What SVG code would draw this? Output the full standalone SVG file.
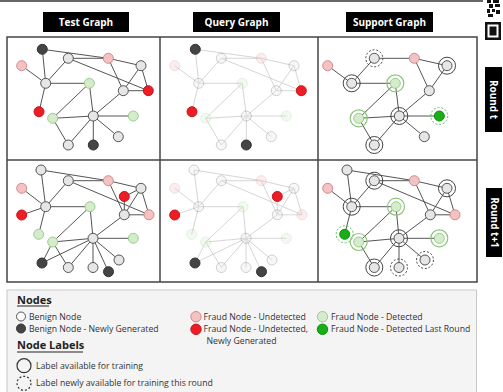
<svg xmlns="http://www.w3.org/2000/svg" width="503" height="392" viewBox="0 0 503 392">
<style>
text{font-family:"Open Sans","DejaVu Sans",sans-serif}
.ttl{font-size:10px;font-weight:bold;fill:#fff;text-anchor:middle}
.lg-t{font-size:8.7px;fill:#333}
.hd{font-size:11px;font-weight:bold;fill:#222}
.e{fill:none;stroke:#555;stroke-width:1}
.ef{fill:none;stroke:#d6d6d6;stroke-width:1}
.g{fill:#e6e6e6;stroke:#555;stroke-width:1}
.w{fill:#fafafa;stroke:#555;stroke-width:1}
.k{fill:#444;stroke:#333;stroke-width:1}
.p{fill:#f4c2c2;stroke:#d38a8a;stroke-width:1}
.r{fill:#ee1d25;stroke:#c4141a;stroke-width:1}
.l{fill:#d4ebcc;stroke:#9ccd8c;stroke-width:1}
.b{fill:#16b016;stroke:#0b8f0b;stroke-width:1}
.ring{fill:none;stroke:#444;stroke-width:1}
.dring{fill:none;stroke:#444;stroke-width:1;stroke-dasharray:2 1.8}
.gring{fill:none;stroke:#8cc47c;stroke-width:1.2}
.gdring{fill:none;stroke:#5cbf5c;stroke-width:1;stroke-dasharray:2 1.8}
.fade{opacity:.28}
</style>
<rect width="503" height="392" fill="#fff"/>
<line x1="0" y1="1" x2="483" y2="1" stroke="#333" stroke-width="1.5"/>
<!-- icon -->
<g id="icon" fill="#111">
<rect x="487" y="0" width="4" height="3"/><rect x="493" y="0" width="6" height="3"/>
<rect x="489" y="4" width="4" height="4"/><rect x="495" y="4" width="5" height="3"/>
<rect x="487" y="9" width="3" height="4"/><rect x="492" y="9" width="3" height="3"/><rect x="496" y="10" width="4" height="4"/>
<rect x="488" y="14" width="5" height="3"/>
<rect x="485" y="22" width="16" height="18"/>
<rect x="487.5" y="24.5" width="11" height="13" fill="#fff"/>
<rect x="489.5" y="26.5" width="7" height="9"/>
</g>
<!-- titles -->
<g id="title-test"><rect x="43" y="12" width="86" height="20" fill="#000"/><text class="ttl" x="86" y="25.5">Test Graph</text></g>
<g id="title-query"><rect x="193" y="12" width="87" height="20" fill="#000"/><text class="ttl" x="236.5" y="25.5">Query Graph</text></g>
<g id="title-support"><rect x="346" y="12" width="87" height="20" fill="#000"/><text class="ttl" x="389.5" y="25.5">Support Graph</text></g>
<g id="round-t"><rect x="485" y="67" width="17" height="65" fill="#000"/><text class="ttl" transform="translate(490 99.5) rotate(90)" x="0" y="0">Round t</text></g>
<g id="round-t1"><rect x="486" y="188" width="16" height="69" fill="#000"/><text class="ttl" transform="translate(490.5 222.5) rotate(90)" x="0" y="0">Round t+1</text></g>
<!-- grid -->
<g id="grid" fill="none" stroke="#444" stroke-width="1.5">
<rect x="7" y="37" width="470" height="245"/>
<line x1="160" y1="37" x2="160" y2="282"/>
<line x1="318" y1="37" x2="318" y2="282"/>
<line x1="7" y1="160" x2="477" y2="160"/>
</g>
<!-- connectors -->
<g id="connectors">
<path id="edges-test-t" class="e" d="M42.3 49.3L108.3 58.3M42.3 49.3L45.7 83.3M68.3 58.3L108.3 58.3M68.3 58.3L45.7 83.3M68.3 58.3L148.3 90.7M108.3 58.3L141 65.7M108.3 58.3L123.3 90.7M141 65.7L123.3 90.7M141 65.7L148.3 90.7M123.3 90.7L148.3 90.7M21.7 65.7L45.7 83.3M45.7 83.3L89.3 83.3M45.7 83.3L39 111.7M89.3 83.3L52.7 118.3M89.3 83.3L93.3 116M123.3 90.7L93.3 116M52.7 118.3L93.3 116M52.7 118.3L68.3 145M93.3 116L133.3 116M93.3 116L118.3 136.7M93.3 116L93.3 145M93.3 116L68.3 145"/>
<path id="edges-query-t" class="ef" transform="translate(153 0)" d="M42.3 49.3L108.3 58.3M42.3 49.3L45.7 83.3M68.3 58.3L108.3 58.3M68.3 58.3L45.7 83.3M68.3 58.3L148.3 90.7M108.3 58.3L141 65.7M108.3 58.3L123.3 90.7M141 65.7L123.3 90.7M141 65.7L148.3 90.7M123.3 90.7L148.3 90.7M21.7 65.7L45.7 83.3M45.7 83.3L89.3 83.3M45.7 83.3L39 111.7M89.3 83.3L52.7 118.3M89.3 83.3L93.3 116M123.3 90.7L93.3 116M52.7 118.3L93.3 116M52.7 118.3L68.3 145M93.3 116L133.3 116M93.3 116L118.3 136.7M93.3 116L93.3 145M93.3 116L68.3 145"/>
<path id="edges-support-t" class="e" transform="translate(306 0)" d="M68.3 58.3L108.3 58.3M68.3 58.3L45.7 83.3M108.3 58.3L141 65.7M108.3 58.3L123.3 90.7M141 65.7L123.3 90.7M21.7 65.7L45.7 83.3M45.7 83.3L89.3 83.3M89.3 83.3L52.7 118.3M89.3 83.3L93.3 116M123.3 90.7L93.3 116M52.7 118.3L93.3 116M52.7 118.3L68.3 145M93.3 116L133.3 116M93.3 116L118.3 136.7M93.3 116L68.3 145"/>
<path id="edges-test-t1" class="e" d="M41 170L108.3 180.7M41 170L45.7 206.7M68.3 180.7L108.3 180.7M68.3 180.7L45.7 206.7M68.3 180.7L149 214.8M108.3 180.7L141 188.3M108.3 180.7L124.3 214.8M141 188.3L124.3 214.8M141 188.3L149 214.8M124.3 214.8L149 214.8M124.3 196.5L141 188.3M124.3 196.5L124.3 214.8M21.7 188.3L45.7 206.7M45.7 206.7L90 206.7M45.7 206.7L21.7 215M45.7 206.7L38.7 234.3M90 206.7L52.7 242M90 206.7L93 238.3M124.3 214.8L93 238.3M52.7 242L93 238.3M52.7 242L68.3 267.5M52.7 242L42 263M42 263L93 238.3M93 238.3L133.3 238.3M93 238.3L119 260M93 238.3L68.3 267.5M93 238.3L93 267.5M93 238.3L108.5 271.7"/>
<path id="edges-query-t1" class="ef" transform="translate(153 0)" d="M41 170L108.3 180.7M41 170L45.7 206.7M68.3 180.7L108.3 180.7M68.3 180.7L45.7 206.7M68.3 180.7L149 214.8M108.3 180.7L141 188.3M108.3 180.7L124.3 214.8M141 188.3L124.3 214.8M141 188.3L149 214.8M124.3 214.8L149 214.8M124.3 196.5L141 188.3M124.3 196.5L124.3 214.8M21.7 188.3L45.7 206.7M45.7 206.7L90 206.7M45.7 206.7L21.7 215M45.7 206.7L38.7 234.3M90 206.7L52.7 242M90 206.7L93 238.3M124.3 214.8L93 238.3M52.7 242L93 238.3M52.7 242L68.3 267.5M52.7 242L42 263M42 263L93 238.3M93 238.3L133.3 238.3M93 238.3L119 260M93 238.3L68.3 267.5M93 238.3L93 267.5M93 238.3L108.5 271.7"/>
<path id="edges-support-t1" class="e" transform="translate(306 0)" d="M41 170L108.3 180.7M41 170L45.7 206.7M68.3 180.7L108.3 180.7M68.3 180.7L45.7 206.7M68.3 180.7L149 214.8M108.3 180.7L141 188.3M108.3 180.7L124.3 214.8M141 188.3L124.3 214.8M141 188.3L149 214.8M124.3 214.8L149 214.8M21.7 188.3L45.7 206.7M45.7 206.7L90 206.7M45.7 206.7L38.7 234.3M90 206.7L52.7 242M90 206.7L93 238.3M124.3 214.8L93 238.3M52.7 242L93 238.3M52.7 242L68.3 267.5M93 238.3L133.3 238.3M93 238.3L119 260M93 238.3L68.3 267.5M93 238.3L93 267.5"/>
</g>
<!-- Test graph, round t -->
<g id="test-t">
<g id="tt-A"><circle class="k" cx="42.3" cy="49.3" r="5"/></g>
<g id="tt-B"><circle class="g" cx="68.3" cy="58.3" r="5"/></g>
<g id="tt-C"><circle class="p" cx="108.3" cy="58.3" r="5"/></g>
<g id="tt-D"><circle class="g" cx="141" cy="65.7" r="5"/></g>
<g id="tt-E"><circle class="p" cx="21.7" cy="65.7" r="5"/></g>
<g id="tt-F"><circle class="g" cx="45.7" cy="83.3" r="5"/></g>
<g id="tt-G"><circle class="l" cx="89.3" cy="83.3" r="5"/></g>
<g id="tt-H"><circle class="g" cx="123.3" cy="90.7" r="5"/></g>
<g id="tt-I"><circle class="r" cx="148.3" cy="90.7" r="5"/></g>
<g id="tt-J"><circle class="r" cx="39" cy="111.7" r="5"/></g>
<g id="tt-K"><circle class="l" cx="52.7" cy="118.3" r="5"/></g>
<g id="tt-L"><circle class="g" cx="93.3" cy="116" r="5"/></g>
<g id="tt-M"><circle class="l" cx="133.3" cy="116" r="5"/></g>
<g id="tt-N"><circle class="g" cx="118.3" cy="136.7" r="5"/></g>
<g id="tt-O"><circle class="g" cx="68.3" cy="145" r="5"/></g>
<g id="tt-P"><circle class="k" cx="93.3" cy="145" r="5"/></g>
</g>
<!-- Query graph, round t -->
<g id="query-t" transform="translate(153 0)">
<g id="qt-A"><circle class="k" cx="42.3" cy="49.3" r="5"/></g>
<g id="qt-B" class="fade"><circle class="g" cx="68.3" cy="58.3" r="5"/></g>
<g id="qt-C" class="fade"><circle class="p" cx="108.3" cy="58.3" r="5"/></g>
<g id="qt-D" class="fade"><circle class="g" cx="141" cy="65.7" r="5"/></g>
<g id="qt-E" class="fade"><circle class="p" cx="21.7" cy="65.7" r="5"/></g>
<g id="qt-F" class="fade"><circle class="g" cx="45.7" cy="83.3" r="5"/></g>
<g id="qt-G" class="fade"><circle class="l" cx="89.3" cy="83.3" r="5"/></g>
<g id="qt-H" class="fade"><circle class="g" cx="123.3" cy="90.7" r="5"/></g>
<g id="qt-I"><circle class="r" cx="148.3" cy="90.7" r="5"/></g>
<g id="qt-J"><circle class="r" cx="39" cy="111.7" r="5"/></g>
<g id="qt-K" class="fade"><circle class="l" cx="52.7" cy="118.3" r="5"/></g>
<g id="qt-L" class="fade"><circle class="g" cx="93.3" cy="116" r="5"/></g>
<g id="qt-M" class="fade"><circle class="l" cx="133.3" cy="116" r="5"/></g>
<g id="qt-N" class="fade"><circle class="g" cx="118.3" cy="136.7" r="5"/></g>
<g id="qt-O" class="fade"><circle class="g" cx="68.3" cy="145" r="5"/></g>
<g id="qt-P"><circle class="k" cx="93.3" cy="145" r="5"/></g>
</g>
<!-- Support graph, round t -->
<g id="support-t" transform="translate(306 0)">
<g id="st-B"><circle class="dring" cx="68.3" cy="58.3" r="8.5"/><circle class="g" cx="68.3" cy="58.3" r="5"/></g>
<g id="st-C"><circle class="p" cx="108.3" cy="58.3" r="5"/></g>
<g id="st-D"><circle class="ring" cx="141" cy="65.7" r="8.5"/><circle class="g" cx="141" cy="65.7" r="5"/></g>
<g id="st-E"><circle class="p" cx="21.7" cy="65.7" r="5"/></g>
<g id="st-F"><circle class="ring" cx="45.7" cy="83.3" r="8.5"/><circle class="g" cx="45.7" cy="83.3" r="5"/></g>
<g id="st-G"><circle class="gring" cx="89.3" cy="83.3" r="8.5"/><circle class="l" cx="89.3" cy="83.3" r="5"/></g>
<g id="st-H"><circle class="g" cx="123.3" cy="90.7" r="5"/></g>
<g id="st-K"><circle class="gring" cx="52.7" cy="118.3" r="8.5"/><circle class="l" cx="52.7" cy="118.3" r="5"/></g>
<g id="st-L"><circle class="ring" cx="93.3" cy="116" r="8.5"/><circle class="g" cx="93.3" cy="116" r="5"/></g>
<g id="st-M"><circle class="gdring" cx="133.3" cy="116" r="8.5"/><circle class="b" cx="133.3" cy="116" r="5"/></g>
<g id="st-N"><circle class="g" cx="118.3" cy="136.7" r="5"/></g>
<g id="st-O"><circle class="ring" cx="68.3" cy="145" r="8.5"/><circle class="g" cx="68.3" cy="145" r="5"/></g>
</g>
<!-- Test graph, round t+1 -->
<g id="test-t1">
<g id="tu-A"><circle class="g" cx="41" cy="170" r="5"/></g>
<g id="tu-B"><circle class="g" cx="68.3" cy="180.7" r="5"/></g>
<g id="tu-C"><circle class="p" cx="108.3" cy="180.7" r="5"/></g>
<g id="tu-D"><circle class="g" cx="141" cy="188.3" r="5"/></g>
<g id="tu-E"><circle class="p" cx="21.7" cy="188.3" r="5"/></g>
<g id="tu-Q"><circle class="r" cx="124.3" cy="196.5" r="5"/></g>
<g id="tu-F"><circle class="g" cx="45.7" cy="206.7" r="5"/></g>
<g id="tu-G"><circle class="l" cx="90" cy="206.7" r="5"/></g>
<g id="tu-H"><circle class="g" cx="124.3" cy="214.8" r="5"/></g>
<g id="tu-I"><circle class="p" cx="149" cy="214.8" r="5"/></g>
<g id="tu-J"><circle class="r" cx="21.7" cy="215" r="5"/></g>
<g id="tu-R"><circle class="l" cx="38.7" cy="234.3" r="5"/></g>
<g id="tu-K"><circle class="l" cx="52.7" cy="242" r="5"/></g>
<g id="tu-L"><circle class="g" cx="93" cy="238.3" r="5"/></g>
<g id="tu-M"><circle class="l" cx="133.3" cy="238.3" r="5"/></g>
<g id="tu-S"><circle class="k" cx="42" cy="263" r="5"/></g>
<g id="tu-O"><circle class="g" cx="68.3" cy="267.5" r="5"/></g>
<g id="tu-T"><circle class="g" cx="93" cy="267.5" r="5"/></g>
<g id="tu-N"><circle class="g" cx="119" cy="260" r="5"/></g>
<g id="tu-P"><circle class="k" cx="108.5" cy="271.7" r="5"/></g>
</g>
<!-- Query graph, round t+1 -->
<g id="query-t1" transform="translate(153 0)">
<g id="qu-A" class="fade"><circle class="g" cx="41" cy="170" r="5"/></g>
<g id="qu-B" class="fade"><circle class="g" cx="68.3" cy="180.7" r="5"/></g>
<g id="qu-C" class="fade"><circle class="p" cx="108.3" cy="180.7" r="5"/></g>
<g id="qu-D" class="fade"><circle class="g" cx="141" cy="188.3" r="5"/></g>
<g id="qu-E" class="fade"><circle class="p" cx="21.7" cy="188.3" r="5"/></g>
<g id="qu-Q"><circle class="r" cx="124.3" cy="196.5" r="5"/></g>
<g id="qu-F" class="fade"><circle class="g" cx="45.7" cy="206.7" r="5"/></g>
<g id="qu-G" class="fade"><circle class="l" cx="90" cy="206.7" r="5"/></g>
<g id="qu-H" class="fade"><circle class="g" cx="124.3" cy="214.8" r="5"/></g>
<g id="qu-I" class="fade"><circle class="p" cx="149" cy="214.8" r="5"/></g>
<g id="qu-J"><circle class="r" cx="21.7" cy="215" r="5"/></g>
<g id="qu-R" class="fade"><circle class="l" cx="38.7" cy="234.3" r="5"/></g>
<g id="qu-K" class="fade"><circle class="l" cx="52.7" cy="242" r="5"/></g>
<g id="qu-L" class="fade"><circle class="g" cx="93" cy="238.3" r="5"/></g>
<g id="qu-M" class="fade"><circle class="l" cx="133.3" cy="238.3" r="5"/></g>
<g id="qu-S"><circle class="k" cx="42" cy="263" r="5"/></g>
<g id="qu-O" class="fade"><circle class="g" cx="68.3" cy="267.5" r="5"/></g>
<g id="qu-T" class="fade"><circle class="g" cx="93" cy="267.5" r="5"/></g>
<g id="qu-N" class="fade"><circle class="g" cx="119" cy="260" r="5"/></g>
<g id="qu-P"><circle class="k" cx="108.5" cy="271.7" r="5"/></g>
</g>
<!-- Support graph, round t+1 -->
<g id="support-t1" transform="translate(306 0)">
<g id="su-A"><circle class="g" cx="41" cy="170" r="5"/></g>
<g id="su-B"><circle class="ring" cx="68.3" cy="180.7" r="8.5"/><circle class="g" cx="68.3" cy="180.7" r="5"/></g>
<g id="su-C"><circle class="p" cx="108.3" cy="180.7" r="5"/></g>
<g id="su-D"><circle class="ring" cx="141" cy="188.3" r="8.5"/><circle class="g" cx="141" cy="188.3" r="5"/></g>
<g id="su-E"><circle class="p" cx="21.7" cy="188.3" r="5"/></g>
<g id="su-F"><circle class="ring" cx="45.7" cy="206.7" r="8.5"/><circle class="g" cx="45.7" cy="206.7" r="5"/></g>
<g id="su-G"><circle class="gring" cx="90" cy="206.7" r="8.5"/><circle class="l" cx="90" cy="206.7" r="5"/></g>
<g id="su-H"><circle class="g" cx="124.3" cy="214.8" r="5"/></g>
<g id="su-I"><circle class="p" cx="149" cy="214.8" r="5"/></g>
<g id="su-R"><circle class="gdring" cx="38.7" cy="234.3" r="8.5"/><circle class="b" cx="38.7" cy="234.3" r="5"/></g>
<g id="su-K"><circle class="gring" cx="52.7" cy="242" r="8.5"/><circle class="l" cx="52.7" cy="242" r="5"/></g>
<g id="su-L"><circle class="ring" cx="93" cy="238.3" r="8.5"/><circle class="g" cx="93" cy="238.3" r="5"/></g>
<g id="su-M"><circle class="gring" cx="133.3" cy="238.3" r="8.5"/><circle class="l" cx="133.3" cy="238.3" r="5"/></g>
<g id="su-O"><circle class="ring" cx="68.3" cy="267.5" r="8.5"/><circle class="g" cx="68.3" cy="267.5" r="5"/></g>
<g id="su-T"><circle class="dring" cx="93" cy="267.5" r="8.5"/><circle class="g" cx="93" cy="267.5" r="5"/></g>
<g id="su-N"><circle class="dring" cx="119" cy="260" r="8.5"/><circle class="g" cx="119" cy="260" r="5"/></g>
</g>
<!-- Legend -->
<g id="legend">
<rect x="7" y="290" width="469.5" height="110" fill="#f4f4f4" stroke="#c8c8c8" stroke-width="1"/>
<text class="hd" x="17" y="303.5">Nodes</text>
<line x1="17" y1="306" x2="49" y2="306" stroke="#222" stroke-width="1"/>
<circle class="w" cx="21" cy="316.5" r="4.5"/><text class="lg-t" x="29" y="319.5">Benign Node</text>
<circle class="k" cx="21" cy="328.5" r="4.5"/><text class="lg-t" x="29" y="331.5">Benign Node - Newly Generated</text>
<circle class="p" cx="196" cy="316.7" r="5.2"/><text class="lg-t" x="203.5" y="319.7">Fraud Node - Undetected</text>
<circle class="r" cx="196" cy="329.3" r="5.2"/><text class="lg-t" x="203.5" y="332.3">Fraud Node - Undetected,</text>
<text class="lg-t" x="206.5" y="344">Newly Generated</text>
<circle class="l" cx="322.5" cy="316.7" r="5.2"/><text class="lg-t" x="331" y="319.7">Fraud Node - Detected</text>
<circle class="b" cx="322.5" cy="329.3" r="5.2"/><text class="lg-t" x="331" y="332.3">Fraud Node - Detected Last Round</text>
<text class="hd" x="17" y="349">Node Labels</text>
<line x1="17" y1="352" x2="83" y2="352" stroke="#222" stroke-width="1"/>
<circle cx="24" cy="365.7" r="7" fill="none" stroke="#333" stroke-width="1.2"/><text class="lg-t" x="36" y="368.5">Label available for training</text>
<circle cx="24" cy="383.3" r="7" fill="none" stroke="#333" stroke-width="1.2" stroke-dasharray="2 2"/><text class="lg-t" x="36" y="386">Label newly available for training this round</text>
</g>
</svg>
